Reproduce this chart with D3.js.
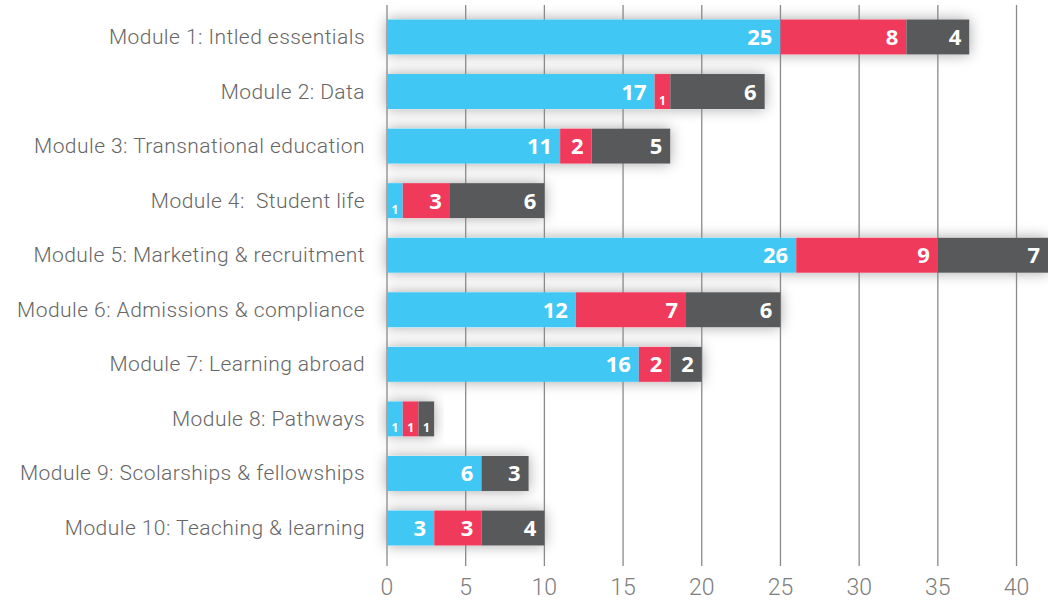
<!DOCTYPE html>
<html><head><meta charset="utf-8">
<script src="https://cdn.jsdelivr.net/npm/d3@7"></script>
<style>body{margin:0;background:#fff}svg{display:block}text{white-space:pre}</style>
</head><body>
<svg id="c" width="1048" height="600"></svg>
<script>
const categories = ["Module 1: Intled essentials","Module 2: Data","Module 3: Transnational education","Module 4:  Student life","Module 5: Marketing & recruitment","Module 6: Admissions & compliance","Module 7: Learning abroad","Module 8: Pathways","Module 9: Scolarships & fellowships","Module 10: Teaching & learning"];
const seriesA = [25,17,11,1,26,12,16,1,6,3];
const seriesB = [8,1,2,3,9,7,2,1,0,3];
const seriesC = [4,6,5,6,7,6,2,1,3,4];
const tickValues = [0,5,10,15,20,25,30,35,40];
const colors = ["#41C7F4","#F03A5B","#58595B"];

const svg = d3.select("#c");
const x = d3.scaleLinear().domain([0,42]).range([387,1048]);
const y = d3.scaleBand().domain(categories).range([9.7,555.3]).paddingInner(0.358).paddingOuter(0.179);

const defs = svg.append("defs");
const f = defs.append("filter").attr("id","sh").attr("x","-20%").attr("y","-60%").attr("width","140%").attr("height","220%");
f.append("feDropShadow").attr("dx",0).attr("dy",0).attr("stdDeviation",7).attr("flood-color","#000").attr("flood-opacity",0.35);

const series = [seriesA,seriesB,seriesC];
const rows = categories.map((c,i)=>{let x0=0;return {c, segs: series.map((s,k)=>{const d={k,v:s[i],x0,x1:x0+s[i]};x0+=s[i];return d;}), total:x0};});

// shadows
svg.append("g").selectAll("rect").data(rows).join("rect")
  .attr("x",x(0)).attr("y",d=>y(d.c)).attr("width",d=>x(d.total)-x(0)).attr("height",y.bandwidth())
  .attr("fill","#fff").attr("filter","url(#sh)");

// grid
svg.append("g").selectAll("line").data(tickValues).join("line")
  .attr("x1",d=>x(d)).attr("x2",d=>x(d)).attr("y1",5).attr("y2",566)
  .attr("stroke","#8a8a8a").attr("stroke-width",1.3);

// bars
const g = svg.append("g");
rows.forEach(r=>{
  const segs = r.segs.filter(s=>s.v>0);
  g.selectAll(null).data(segs).join("rect")
    .attr("x",s=>x(s.x0)).attr("y",y(r.c)).attr("width",s=>x(s.x1)-x(s.x0)).attr("height",y.bandwidth())
    .attr("fill",s=>colors[s.k]);
  g.selectAll(null).data(segs).join("text")
    .attr("x",s=>s.v===1?(x(s.x0)+x(s.x1))/2:x(s.x1)-8)
    .attr("y",s=>s.v===1?y(r.c)+y.bandwidth()-4:y(r.c)+y.bandwidth()/2+8)
    .attr("text-anchor",s=>s.v===1?"middle":"end")
    .attr("font-family","'Open Sans', sans-serif").attr("font-weight",700)
    .attr("font-size",s=>s.v===1?12:22).attr("fill","#fff")
    .text(s=>s.v);
});

// category labels
svg.append("g").selectAll("text").data(categories).join("text")
  .attr("x",365).attr("y",d=>y(d)+y.bandwidth()/2+7)
  .attr("text-anchor","end").attr("font-family","Roboto, sans-serif").attr("font-weight",300)
  .attr("font-size",21).attr("letter-spacing",0.45).attr("fill","#666").text(d=>d);

// tick labels
svg.append("g").selectAll("text").data(tickValues).join("text")
  .attr("x",d=>x(d)).attr("y",595).attr("text-anchor","middle")
  .attr("font-family","Roboto, sans-serif").attr("font-weight",300)
  .attr("font-size",23).attr("fill","#7d7d7d").text(d=>d);
</script>
</body></html>
